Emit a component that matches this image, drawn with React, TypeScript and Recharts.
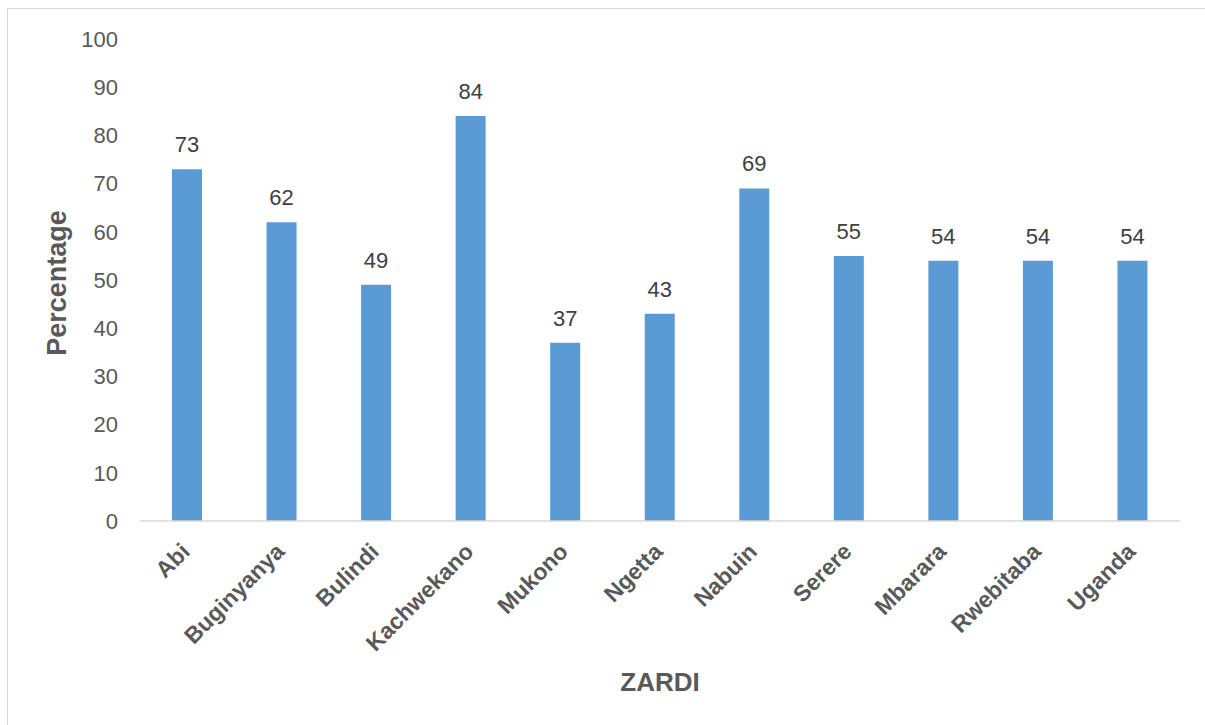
import React from 'react';
import { BarChart, Bar, XAxis, YAxis, LabelList, Label } from 'recharts';

const districts = ['Abi', 'Buginyanya', 'Bulindi', 'Kachwekano', 'Mukono', 'Ngetta', 'Nabuin', 'Serere', 'Mbarara', 'Rwebitaba', 'Uganda'];
const percentages = [73, 62, 49, 84, 37, 43, 69, 55, 54, 54, 54];
const yTicks = [0, 10, 20, 30, 40, 50, 60, 70, 80, 90, 100];

const data = districts.map((name, i) => ({ name, value: percentages[i] }));

const FONT = '"Liberation Sans", Arial, sans-serif';
const AXIS_TEXT = '#595959';

function CategoryTick({ x, y, payload }: { x: number; y: number; payload: { value: string } }) {
  return (
    <g transform={`translate(${x + 4},${y + 30})`}>
      <text x={0} y={0} textAnchor="end" transform="rotate(-45)" fill={AXIS_TEXT} fontSize={23} fontWeight={700} fontFamily={FONT}>
        {payload.value}
      </text>
    </g>
  );
}

export default function App() {
  return (
    <div style={{ position: 'absolute', left: 0, top: 0, width: 1205, height: 725, overflow: 'hidden', background: '#fff' }}>
      <div style={{ position: 'absolute', left: 7, top: 8, width: 1220, height: 740, border: '1.5px solid #d9d9d9' }} />
      <div style={{ position: 'absolute', left: 0, top: 0 }}>
        <BarChart width={1205} height={725} data={data} margin={{ top: 39, right: 25, left: 0, bottom: 0 }} barSize={30}>
          <XAxis
            dataKey="name"
            height={204}
            tick={CategoryTick as any}
            tickLine={false}
            tickSize={0}
            axisLine={{ stroke: '#d9d9d9', strokeWidth: 1.5 }}
            interval={0}
          >
            <Label
              content={({ viewBox }: any) => (
                <text x={viewBox.x + viewBox.width / 2} y={691} textAnchor="middle" fill={AXIS_TEXT} fontSize={26} fontWeight={700} fontFamily={FONT}>
                  ZARDI
                </text>
              )}
            />
          </XAxis>
          <YAxis
            width={140}
            domain={[0, 100]}
            ticks={yTicks}
            axisLine={false}
            tickLine={false}
            tickSize={0}
            tickMargin={22}
            tick={{ fill: AXIS_TEXT, fontSize: 22, fontFamily: FONT }}
          >
            <Label
              content={({ viewBox }: any) => {
                const cx = 66;
                const cy = viewBox.y + viewBox.height / 2 + 3;
                return (
                  <text x={cx} y={cy} textAnchor="middle" transform={`rotate(-90, ${cx}, ${cy})`} fill={AXIS_TEXT} fontSize={27} fontWeight={700} fontFamily={FONT}>
                    Percentage
                  </text>
                );
              }}
            />
          </YAxis>
          <Bar dataKey="value" fill="#5B9BD5" isAnimationActive={false}>
            <LabelList dataKey="value" position="top" offset={17} fill="#404040" fontSize={22} fontFamily={FONT} />
          </Bar>
        </BarChart>
      </div>
    </div>
  );
}
